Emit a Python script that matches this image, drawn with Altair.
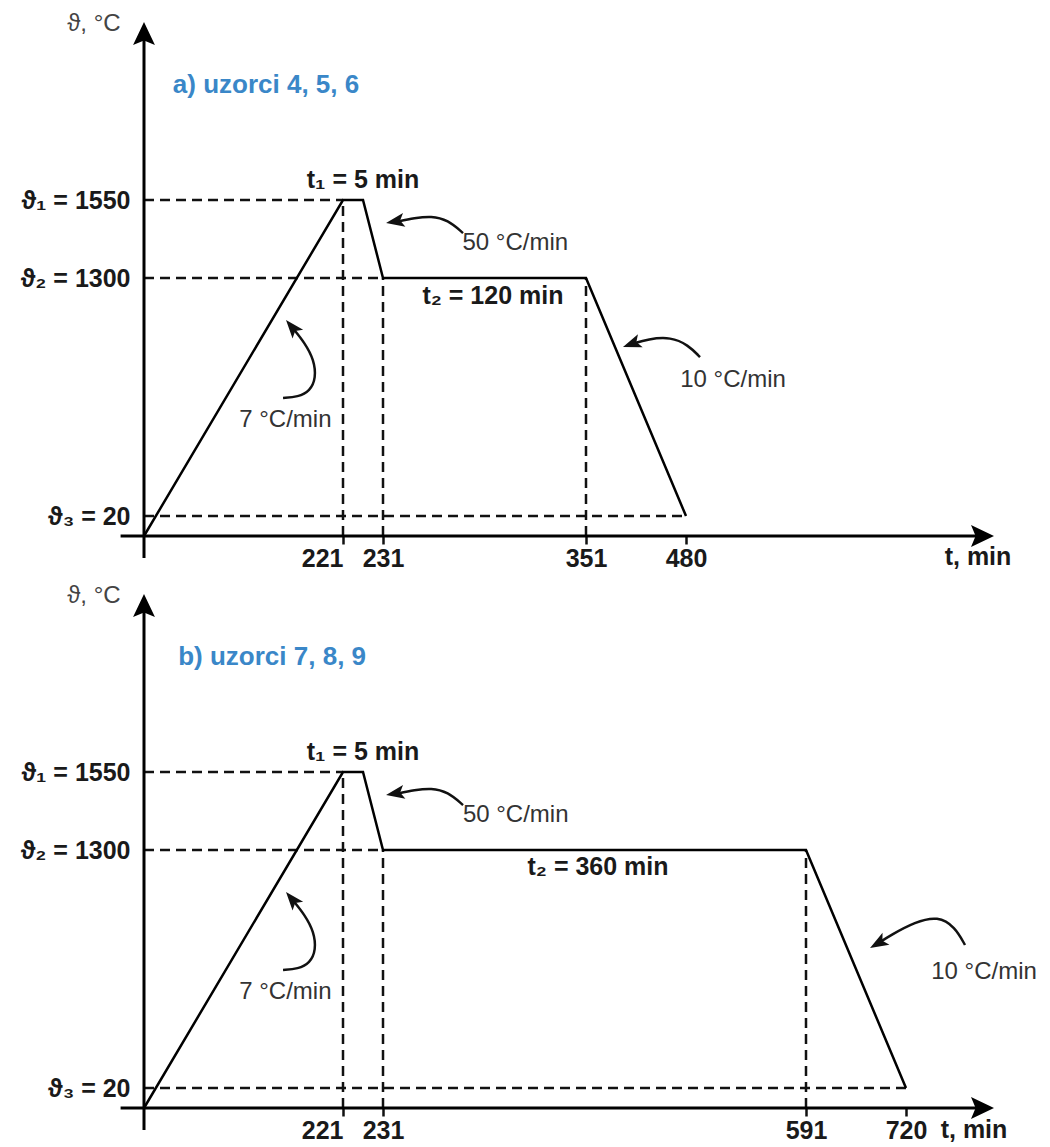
import altair as alt
import pandas as pd

FONT = "Liberation Sans, Arial, Helvetica, sans-serif"

# ---------------- data ----------------
# temperature profiles (time in min, temperature in °C)
A_TIME = [0, 221, 226, 231, 351, 480]
A_TEMP = [0, 1550, 1550, 1300, 1300, 20]
B_TIME = [0, 221, 226, 231, 591, 720]
B_TEMP = [0, 1550, 1550, 1300, 1300, 20]

LEVELS = [20, 1300, 1550]
LEVEL_LABELS = ["ϑ₃ = 20", "ϑ₂ = 1300", "ϑ₁ = 1550"]

A_TICKS = [221, 231, 351, 480]
B_TICKS = [221, 231, 591, 720]

A_TITLE = "a) uzorci 4, 5, 6"
B_TITLE = "b) uzorci 7, 8, 9"
PEAK_HOLD = "t₁ = 5 min"
A_HOLD = "t₂ = 120 min"
B_HOLD = "t₂ = 360 min"
RATE_UP = "7 °C/min"
RATE_DOWN1 = "50 °C/min"
RATE_DOWN2 = "10 °C/min"
Y_TITLE = "ϑ, °C"
X_TITLE = "t, min"

# schematic (piecewise) axis scales
A_XDOM = [0, 221, 231, 351, 480, 788]
A_XRNG = [0, 199, 239, 442, 542, 850]
B_XDOM = [0, 221, 231, 591, 720, 808]
B_XRNG = [0, 199, 239, 662, 762, 850]
Y_DOM = [0, 20, 1300, 1550, 2120]
Y_RNG = [514, 494, 256, 178, 0]
Y_TOP = 2120

# annotation anchors, in data units (time, temperature)
A_ANN = {
    "title": (32, 1918),
    "ytitle": (-26, 2112),
    "xtitle": (772, -21),
    "peak": (226, 1614),
    "hold": (296, 1203),
    "r_up": (157, 536),
    "r_d1": (278, 1412),
    "r_d2": (527, 751),
    "curves": {
        "c50": [(278.3, 1444), (269.4, 1486), (259.4, 1499), (249.9, 1492), (238.7, 1480)],
        "c7": [(154.4, 655), (171, 660), (184.4, 692), (191, 762), (188.8, 859), (178.8, 950), (164.8, 1033)],
        "c10": [(494, 875), (482, 940), (460.7, 983), (431, 972), (411, 946)],
    },
    "heads": [(232.8, 1476, 260), (157.7, 1074, 320), (398.7, 929, 250)],
}
B_ANN = {
    "title": (38, 1918),
    "ytitle": (-26, 2112),
    "xtitle": (788, -22),
    "peak": (226, 1614),
    "hold": (414, 1209),
    "r_up": (157, 536),
    "r_d1": (299, 1412),
    "r_d2": (798, 644),
    "curves": {
        "c50": [(299.1, 1444), (286.3, 1486), (271.9, 1499), (258.2, 1492), (242, 1480)],
        "c7": [(154.4, 655), (171, 660), (184.4, 692), (191, 762), (188.8, 859), (178.8, 950), (164.8, 1033)],
        "c10": [(779, 789), (769, 886), (752, 945), (729, 913), (700.7, 843), (684.7, 800)],
    },
    "heads": [(233.6, 1476, 260), (157.7, 1074, 320), (673.6, 773, 240)],
}

AXIS_HEAD = "M0,0L0.95,2L0,1.6L-0.95,2Z"
CURVE_HEAD = "M0,0L0.75,2L0,1.55L-0.75,2Z"


def make_panel(time, temp, ticks, xdom, xrng, title, hold, ann):
    xend = xdom[-1]
    xs = alt.Scale(domain=xdom, range=xrng, nice=False, zero=False)
    ys = alt.Scale(domain=Y_DOM, range=Y_RNG, nice=False, zero=False)
    label_expr = " : ".join(
        f"datum.value == {v} ? '{l}'" for v, l in zip(LEVELS[:-1], LEVEL_LABELS[:-1])
    ) + f" : '{LEVEL_LABELS[-1]}'"
    xaxis = alt.Axis(
        values=ticks, domain=False, grid=False, ticks=True, tickSize=8,
        tickWidth=2.5, tickColor="#111", labelFont=FONT, labelFontSize=25,
        labelFontWeight="bold", labelColor="#1a1a1a", labelPadding=2,
        labelOverlap=False, labelFlush=False, title=None,
        labelAlign={"condition": {"test": f"datum.value == {ticks[0]}", "value": "right"},
                    "value": "center"},
    )
    yaxis = alt.Axis(
        values=LEVELS, labelExpr=label_expr, domain=False, grid=False,
        ticks=False, labelPadding=14, labelFont=FONT, labelFontSize=25,
        labelFontWeight="bold", labelColor="#1a1a1a", labelBaseline="middle",
        title=None,
    )

    def X(f):
        return alt.X(f, type="quantitative", scale=xs, axis=xaxis)

    def Y(f):
        return alt.Y(f, type="quantitative", scale=ys, axis=yaxis)

    # axis lines
    axes_df = pd.DataFrame({
        "t": [-26, 0], "t2": [xend - 10, 0],
        "T": [0, -22], "T2": [0, Y_TOP - 32],
    })
    axes = alt.Chart(axes_df).mark_rule(color="#000", strokeWidth=3).encode(
        x=X("t"), x2="t2", y=Y("T"), y2="T2")

    heads_df = pd.DataFrame({"t": [xend, 0], "T": [0, Y_TOP], "ang": [90, 0]})
    axis_heads = alt.Chart(heads_df).mark_point(
        shape=AXIS_HEAD, size=529, filled=True, color="#000", opacity=1
    ).encode(x=X("t"), y=Y("T"), angle=alt.Angle("ang:Q", scale=None))

    # dashed guide lines
    peak_t, hold_start, hold_end, end_t = time[1], time[3], time[4], time[5]
    guide_df = pd.DataFrame({
        "t": [0, 0, 0, peak_t, hold_start, hold_end],
        "t2": [peak_t, hold_start, end_t, peak_t, hold_start, hold_end],
        "T": [temp[1], temp[3], temp[5], 0, 0, 0],
        "T2": [temp[1], temp[3], temp[5], temp[1], temp[3], temp[4]],
    })
    guides = alt.Chart(guide_df).mark_rule(
        color="#111", strokeWidth=2.5, strokeDash=[10, 6]
    ).encode(x=X("t"), x2="t2", y=Y("T"), y2="T2")

    # profile
    prof_df = pd.DataFrame({"t": time, "T": temp, "i": range(len(time))})
    profile = alt.Chart(prof_df).mark_line(color="#000", strokeWidth=2.5).encode(
        x=X("t"), y=Y("T"), order="i:O")

    # curved annotation arrows
    rows = []
    for cid, pts in ann["curves"].items():
        for k, (tt, TT) in enumerate(pts):
            rows.append({"id": cid, "i": k, "t": tt, "T": TT})
    curve_df = pd.DataFrame(rows)
    curves = alt.Chart(curve_df).mark_line(
        color="#111", strokeWidth=2.5, interpolate="basis"
    ).encode(x=X("t"), y=Y("T"), detail="id:N", order="i:O")

    ch_df = pd.DataFrame(ann["heads"], columns=["t", "T", "ang"])
    curve_heads = alt.Chart(ch_df).mark_point(
        shape=CURVE_HEAD, size=340, filled=True, color="#111", opacity=1
    ).encode(x=X("t"), y=Y("T"), angle=alt.Angle("ang:Q", scale=None))

    # texts
    def txt(items, **mk):
        df = pd.DataFrame([{"label": l, "t": p[0], "T": p[1]} for l, p in items])
        return alt.Chart(df).mark_text(font=FONT, baseline="middle", **mk).encode(
            x=X("t"), y=Y("T"), text="label:N")

    t_title = txt([(title, ann["title"])], align="left", fontSize=26,
                  fontWeight="bold", color="#3A87C8")
    t_bold = txt([(PEAK_HOLD, ann["peak"]), (hold, ann["hold"]),
                  (X_TITLE, ann["xtitle"])],
                 align="center", fontSize=25, fontWeight="bold", color="#1a1a1a")
    t_norm = txt([(RATE_UP, ann["r_up"]), (RATE_DOWN2, ann["r_d2"])],
                 align="center", fontSize=24, color="#333")
    t_left = txt([(RATE_DOWN1, ann["r_d1"])], align="left", fontSize=24, color="#333")
    t_ytitle = txt([(Y_TITLE, ann["ytitle"])], align="right", fontSize=24, color="#444")

    return alt.layer(
        guides, axes, axis_heads, profile, curves, curve_heads,
        t_title, t_bold, t_norm, t_left, t_ytitle,
    ).properties(width=850, height=514)


panel_a = make_panel(A_TIME, A_TEMP, A_TICKS, A_XDOM, A_XRNG, A_TITLE, A_HOLD, A_ANN)
panel_b = make_panel(B_TIME, B_TEMP, B_TICKS, B_XDOM, B_XRNG, B_TITLE, B_HOLD, B_ANN)

chart = alt.vconcat(panel_a, panel_b, spacing=13).properties(
    padding={"left": 12, "top": 4, "right": 0, "bottom": 0},
    background="white",
).configure_view(stroke=None)

chart.save("out.html", embed_options={"renderer": "svg", "actions": False})
